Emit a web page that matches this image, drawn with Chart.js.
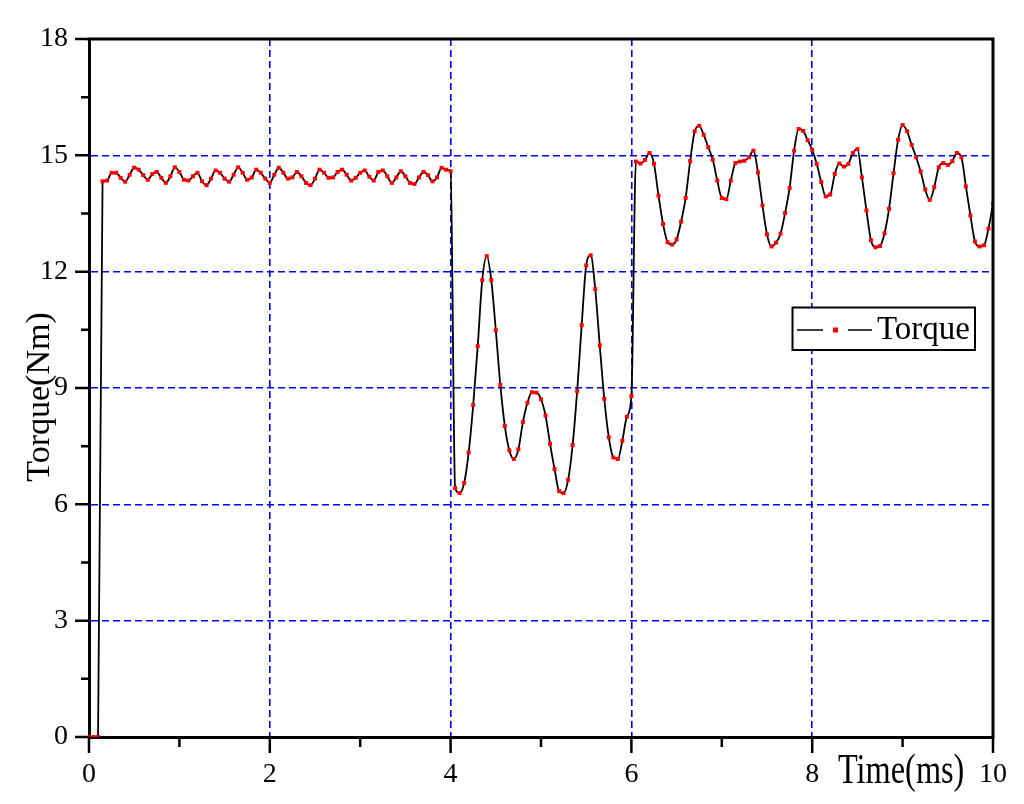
<!DOCTYPE html>
<html>
<head>
<meta charset="utf-8">
<script src="https://cdn.jsdelivr.net/npm/chart.js@4.4.0/dist/chart.umd.min.js"></script>
<style>
  html, body { margin: 0; padding: 0; background: #fff; }
  #wrap { width: 1024px; height: 804px; position: relative; }
</style>
</head>
<body>
<div id="wrap"><canvas id="torqueChart"></canvas></div>
<script>
// Datos (muestreo cada 0.05 ms)
const timeMs = [
  0.00, 0.05, 0.10, 0.15, 0.20, 0.25, 0.30, 0.35, 0.40, 0.45, 0.50, 0.55, 0.60, 0.65, 0.70, 0.75, 0.80, 0.85, 0.90, 0.95,
  1.00, 1.05, 1.10, 1.15, 1.20, 1.25, 1.30, 1.35, 1.40, 1.45, 1.50, 1.55, 1.60, 1.65, 1.70, 1.75, 1.80, 1.85, 1.90, 1.95,
  2.00, 2.05, 2.10, 2.15, 2.20, 2.25, 2.30, 2.35, 2.40, 2.45, 2.50, 2.55, 2.60, 2.65, 2.70, 2.75, 2.80, 2.85, 2.90, 2.95,
  3.00, 3.05, 3.10, 3.15, 3.20, 3.25, 3.30, 3.35, 3.40, 3.45, 3.50, 3.55, 3.60, 3.65, 3.70, 3.75, 3.80, 3.85, 3.90, 3.95,
  4.00, 4.05, 4.10, 4.15, 4.20, 4.25, 4.30, 4.35, 4.40, 4.45, 4.50, 4.55, 4.60, 4.65, 4.70, 4.75, 4.80, 4.85, 4.90, 4.95,
  5.00, 5.05, 5.10, 5.15, 5.20, 5.25, 5.30, 5.35, 5.40, 5.45, 5.50, 5.55, 5.60, 5.65, 5.70, 5.75, 5.80, 5.85, 5.90, 5.95,
  6.00, 6.05, 6.10, 6.15, 6.20, 6.25, 6.30, 6.35, 6.40, 6.45, 6.50, 6.55, 6.60, 6.65, 6.70, 6.75, 6.80, 6.85, 6.90, 6.95,
  7.00, 7.05, 7.10, 7.15, 7.20, 7.25, 7.30, 7.35, 7.40, 7.45, 7.50, 7.55, 7.60, 7.65, 7.70, 7.75, 7.80, 7.85, 7.90, 7.95,
  8.00, 8.05, 8.10, 8.15, 8.20, 8.25, 8.30, 8.35, 8.40, 8.45, 8.50, 8.55, 8.60, 8.65, 8.70, 8.75, 8.80, 8.85, 8.90, 8.95,
  9.00, 9.05, 9.10, 9.15, 9.20, 9.25, 9.30, 9.35, 9.40, 9.45, 9.50, 9.55, 9.60, 9.65, 9.70, 9.75, 9.80, 9.85, 9.90, 9.95,
  10.00
];

const torqueNm = [
  0, 0, 0, 14.33, 14.35, 14.55, 14.55, 14.42, 14.32, 14.50, 14.68, 14.63, 14.49, 14.37, 14.52, 14.57, 14.42, 14.29, 14.46, 14.69,
  14.57, 14.37, 14.35, 14.46, 14.55, 14.33, 14.23, 14.40, 14.61, 14.55, 14.40, 14.32, 14.50, 14.69, 14.55, 14.37, 14.43, 14.63, 14.55, 14.40,
  14.29, 14.50, 14.68, 14.55, 14.40, 14.43, 14.57, 14.46, 14.29, 14.23, 14.40, 14.63, 14.55, 14.42, 14.43, 14.57, 14.63, 14.50, 14.35, 14.42,
  14.55, 14.61, 14.45, 14.35, 14.57, 14.61, 14.46, 14.29, 14.43, 14.59, 14.46, 14.29, 14.26, 14.43, 14.57, 14.49, 14.33, 14.43, 14.68, 14.63,
  14.59, 6.42, 6.29, 6.55, 7.34, 8.56, 10.08, 11.78, 12.40, 11.78, 10.49, 9.08, 8.02, 7.39, 7.17, 7.42, 8.12, 8.62, 8.89, 8.88,
  8.71, 8.29, 7.56, 6.91, 6.34, 6.29, 6.63, 7.53, 8.92, 10.62, 12.16, 12.42, 11.55, 10.10, 8.72, 7.73, 7.21, 7.17, 7.64, 8.26,
  8.79, 14.84, 14.79, 14.88, 15.06, 14.78, 13.96, 13.23, 12.76, 12.70, 12.83, 13.29, 13.90, 14.85, 15.62, 15.76, 15.53, 15.21, 14.89, 14.35,
  13.90, 13.87, 14.35, 14.80, 14.84, 14.86, 14.95, 15.12, 14.56, 13.71, 12.96, 12.65, 12.75, 12.98, 13.51, 14.16, 15.12, 15.68, 15.63, 15.39,
  15.14, 14.78, 14.31, 13.94, 13.99, 14.52, 14.79, 14.71, 14.78, 15.06, 15.16, 14.43, 13.58, 12.81, 12.63, 12.66, 12.99, 13.62, 14.54, 15.40,
  15.78, 15.62, 15.27, 14.95, 14.58, 14.12, 13.85, 14.18, 14.69, 14.80, 14.75, 14.85, 15.06, 14.95, 14.20, 13.45, 12.78, 12.65, 12.68, 13.11,
  13.75
];

const xTicks = [0, 2, 4, 6, 8, 10];
const yTicks = [0, 3, 6, 9, 12, 15, 18];
const xMinorTicks = [1, 3, 5, 7, 9];
const yMinorTicks = [1.5, 4.5, 7.5, 10.5, 13.5, 16.5];

const seriesLabel = 'Torque';
const xTitle = 'Time(ms)';
const yTitle = 'Torque(Nm)';

const FONT = '"Liberation Serif", "Times New Roman", serif';
const gridBlue = '#0000ff';

// Marco, marcas menores, títulos de ejes y leyenda
const decorPlugin = {
  id: 'decor',
  afterDraw(chart) {
    const { ctx, chartArea: a, scales } = chart;
    const sx = scales.x, sy = scales.y;
    ctx.save();
    ctx.strokeStyle = '#000';
    ctx.lineCap = 'butt';

    // bordes superior y derecho
    ctx.lineWidth = 3;
    ctx.beginPath();
    ctx.moveTo(a.left - 1.5, a.top);
    ctx.lineTo(a.right, a.top);
    ctx.lineTo(a.right, a.bottom + 1.5);
    ctx.stroke();

    // marcas eje Y
    ctx.lineWidth = 2.5;
    ctx.beginPath();
    yTicks.forEach(v => { const y = sy.getPixelForValue(v); ctx.moveTo(a.left - 14, y); ctx.lineTo(a.left, y); });
    yMinorTicks.forEach(v => { const y = sy.getPixelForValue(v); ctx.moveTo(a.left - 8, y); ctx.lineTo(a.left, y); });
    // marcas eje X
    xTicks.forEach(v => { const x = sx.getPixelForValue(v); ctx.moveTo(x, a.bottom); ctx.lineTo(x, a.bottom + 16); });
    xMinorTicks.forEach(v => { const x = sx.getPixelForValue(v); ctx.moveTo(x, a.bottom); ctx.lineTo(x, a.bottom + 10); });
    ctx.stroke();

    // títulos
    ctx.fillStyle = '#000';
    ctx.font = '34px ' + FONT;
    ctx.textAlign = 'center';
    ctx.textBaseline = 'middle';
    ctx.save();
    ctx.translate(40, 397);
    ctx.rotate(-Math.PI / 2);
    ctx.fillText(yTitle, 0, 0);
    ctx.restore();

    ctx.save();
    ctx.translate(838, 783);
    ctx.scale(0.77, 1);
    ctx.font = '42px ' + FONT;
    ctx.textAlign = 'left';
    ctx.textBaseline = 'alphabetic';
    ctx.fillText(xTitle, 0, 0);
    ctx.restore();

    // leyenda
    const lx = 792.5, ly = 307.5, lw = 182.5, lh = 42.5, my = 330;
    ctx.fillStyle = '#fff';
    ctx.fillRect(lx, ly, lw, lh);
    ctx.lineWidth = 2;
    ctx.strokeRect(lx, ly, lw, lh);
    ctx.lineWidth = 1.5;
    ctx.beginPath();
    ctx.moveTo(797, my); ctx.lineTo(823, my);
    ctx.moveTo(848, my); ctx.lineTo(872, my);
    ctx.stroke();
    ctx.fillStyle = '#ff0000';
    ctx.fillRect(833, my - 2.5, 5, 5);
    ctx.fillStyle = '#000';
    ctx.font = '33px ' + FONT;
    ctx.textAlign = 'left';
    ctx.textBaseline = 'alphabetic';
    ctx.fillText(seriesLabel, 877, 339);
    ctx.restore();
  }
};

const gridColor = (max) => (c) => (c.tick && (c.tick.value === 0 || c.tick.value === max)) ? 'rgba(0,0,0,0)' : gridBlue;

new Chart(document.getElementById('torqueChart'), {
  type: 'line',
  data: {
    datasets: [{
      label: seriesLabel,
      data: timeMs.map((t, i) => ({ x: t, y: torqueNm[i] })),
      borderColor: '#000',
      borderWidth: 1.8,
      cubicInterpolationMode: 'monotone',
      pointStyle: 'rect',
      pointRadius: 2.8,
      pointBorderWidth: 0,
      pointBackgroundColor: '#ff0000',
      fill: false
    }]
  },
  options: {
    responsive: true,
    maintainAspectRatio: false,
    animation: false,
    devicePixelRatio: 1,
    layout: { padding: { left: 1, right: 31, top: 39, bottom: 0 } },
    plugins: { legend: { display: false }, tooltip: { enabled: false } },
    scales: {
      x: {
        type: 'linear', min: 0, max: 10,
        afterFit: s => { s.height = 67; s.paddingLeft = 0; s.paddingRight = 0; },
        afterBuildTicks: s => { s.ticks = xTicks.map(v => ({ value: v })); },
        ticks: { color: '#000', font: { family: FONT, size: 28 }, padding: 21, maxRotation: 0 },
        grid: { drawTicks: false, color: gridColor(10), lineWidth: 1.6 },
        border: { display: true, color: '#000', width: 3, dash: [7, 4] }
      },
      y: {
        type: 'linear', min: 0, max: 18,
        afterFit: s => { s.width = 88; },
        afterBuildTicks: s => { s.ticks = yTicks.map(v => ({ value: v })); },
        ticks: { color: '#000', font: { family: FONT, size: 28 }, padding: 21 },
        grid: { drawTicks: false, color: gridColor(18), lineWidth: 1.6 },
        border: { display: true, color: '#000', width: 3, dash: [7, 4] }
      }
    }
  },
  plugins: [decorPlugin]
});
</script>
</body>
</html>
